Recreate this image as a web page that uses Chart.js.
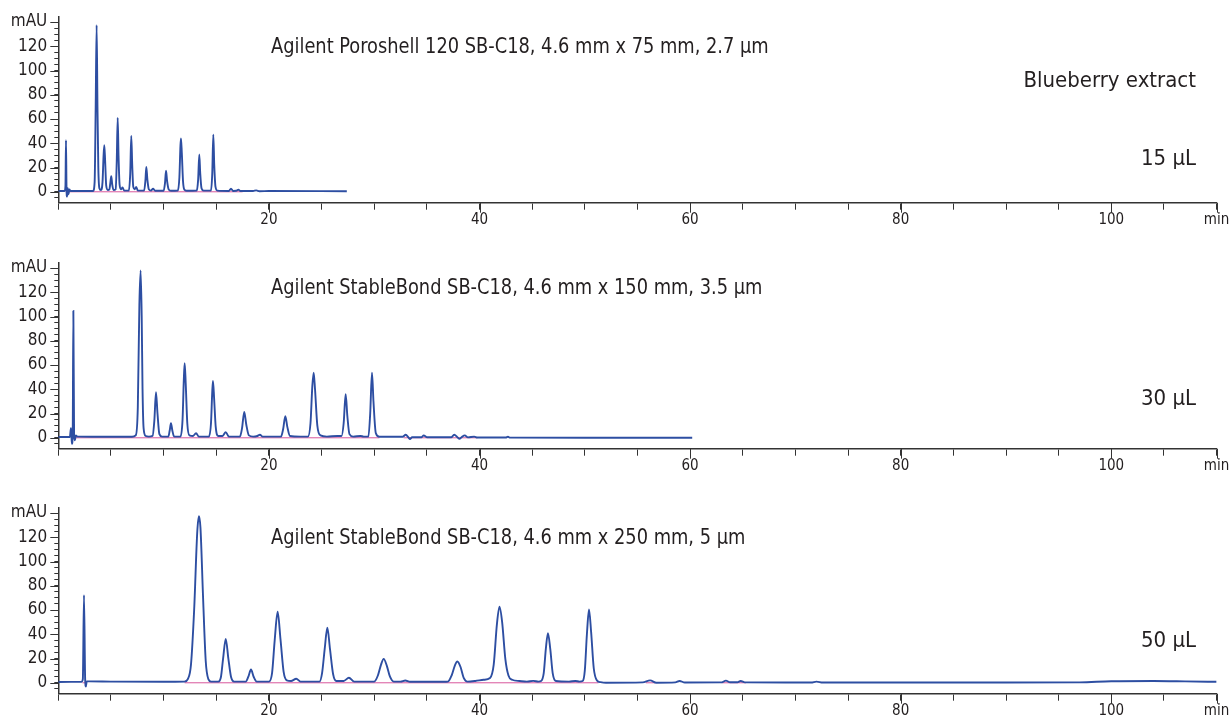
<!DOCTYPE html>
<html lang="en">
<head>
    <meta charset="UTF-8">
    <title>Blueberry extract chromatograms</title>
    <script src="https://cdn.jsdelivr.net/npm/chart.js"></script>
    <style>
        body { margin: 0; background: #fff; width: 1232px; height: 726px; overflow: hidden; position: relative; }
        .panel { position: absolute; left: 0; width: 1232px; height: 245px; }
        .txt { position: absolute; font-family: 'Liberation Sans Narrow', 'DejaVu Sans Condensed', sans-serif; color: #231f20; white-space: nowrap; line-height: 26px; }
        .title { left: 271px; font-size: 22px; transform: scaleX(0.9); transform-origin: left center; }
        .right { right: 36px; font-size: 22px; text-align: right; }
    </style>
</head>
<body>
    <div class="panel" style="top:0px"><canvas id="c1"></canvas></div>
    <div class="panel" style="top:245.6px"><canvas id="c2"></canvas></div>
    <div class="panel" style="top:490.6px"><canvas id="c3"></canvas></div>

    <div class="txt title" style="top:33px">Agilent Poroshell 120 SB-C18, 4.6 mm x 75 mm, 2.7 µm</div>
    <div class="txt right" style="top:67px">Blueberry extract</div>
    <div class="txt right" style="top:145px">15 µL</div>
    <div class="txt title" style="top:274px">Agilent StableBond SB-C18, 4.6 mm x 150 mm, 3.5 µm</div>
    <div class="txt right" style="top:385px">30 µL</div>
    <div class="txt title" style="top:524px">Agilent StableBond SB-C18, 4.6 mm x 250 mm, 5 µm</div>
    <div class="txt right" style="top:627px">50 µL</div>

    <script>
        // retention time (min), absorbance (mAU)
        const trace75 = [
            [0, 0.7], [0.6, 0.7], [0.68, 5], [0.73, 42.5], [0.78, 3], [0.83, -4], [0.9, 3], [0.97, -2], [1.05, 2], [1.15, 0.7],
            [3.3, 0.7], [3.45, 8], [3.55, 70], [3.64, 137.5], [3.72, 70], [3.8, 20], [3.9, 3], [4.05, 1.5],
            [4.2, 8], [4.3, 30], [4.37, 38.4], [4.45, 25], [4.55, 5], [4.7, 1.5],
            [4.85, 2], [4.95, 8], [5.03, 12.9], [5.12, 6], [5.25, 1.5],
            [5.45, 2], [5.55, 25], [5.64, 61], [5.72, 30], [5.82, 6], [5.95, 2], [6.1, 3.5], [6.25, 1],
            [6.7, 1], [6.83, 15], [6.93, 46], [7.02, 22], [7.12, 4], [7.25, 2], [7.4, 4], [7.55, 1],
            [8.15, 1], [8.27, 9], [8.36, 20.5], [8.46, 10], [8.6, 2], [8.8, 1], [9.0, 2.5], [9.2, 0.8],
            [10.0, 0.8], [10.13, 7], [10.23, 17.3], [10.33, 9], [10.48, 2], [10.7, 0.8],
            [11.35, 1], [11.5, 12], [11.6, 38], [11.65, 44], [11.73, 32], [11.85, 8], [12.0, 1.5], [12.2, 0.8],
            [13.15, 1], [13.28, 10], [13.39, 30.7], [13.48, 15], [13.6, 3], [13.8, 1],
            [14.5, 1], [14.62, 15], [14.72, 47], [14.81, 22], [14.93, 4], [15.1, 1],
            [16.2, 0.7], [16.4, 2.5], [16.6, 0.7], [16.9, 0.8], [17.1, 1.8], [17.3, 0.6],
            [18.5, 0.6], [18.8, 1.2], [19.1, 0.5], [20, 0.6], [27.4, 0.5]
        ];
        const trace150 = [
            [0, 0.7], [1.1, 0.7], [1.2, 8], [1.25, 1], [1.3, -5], [1.37, 5], [1.43, 104.7], [1.5, 2], [1.58, -2], [1.66, 2], [1.8, 1],
            [5, 0.8], [7.0, 0.8], [7.35, 2], [7.55, 25], [7.7, 110], [7.82, 138], [7.92, 100], [8.0, 40], [8.1, 8], [8.3, 1.5], [8.6, 1],
            [8.95, 1.5], [9.12, 14], [9.28, 37.5], [9.42, 20], [9.6, 3], [9.85, 1],
            [10.45, 1], [10.58, 6], [10.7, 12], [10.83, 6], [11.0, 1],
            [11.6, 1], [11.8, 15], [11.92, 48], [12.0, 61.6], [12.1, 45], [12.25, 12], [12.45, 2], [12.8, 1.5], [13.08, 3.8], [13.35, 1],
            [14.3, 1], [14.5, 12], [14.62, 38], [14.69, 46.8], [14.8, 32], [14.95, 9], [15.2, 1.5], [15.6, 1.5], [15.9, 4.7], [16.2, 1],
            [17.25, 1], [17.45, 8], [17.66, 21.4], [17.85, 11], [18.1, 2], [18.5, 1], [18.9, 1.5], [19.15, 2.5], [19.4, 1],
            [21.0, 1], [21.15, 1], [21.35, 7], [21.56, 17.8], [21.75, 9], [22.0, 1.5], [23.0, 1],
            [23.7, 1], [23.95, 12], [24.12, 42], [24.25, 53.7], [24.38, 40], [24.6, 10], [24.9, 2], [25.5, 1], [26.5, 1.5],
            [26.9, 1.5], [27.1, 12], [27.29, 36], [27.45, 18], [27.65, 3], [28.0, 1], [28.7, 1.5], [29.0, 1],
            [29.45, 1], [29.62, 20], [29.79, 53.7], [29.93, 30], [30.15, 4], [30.5, 0.8],
            [32.7, 0.8], [33.0, 2.5], [33.25, 0.3], [33.4, -1], [33.6, 0.5], [34.5, 0.5], [34.7, 2], [35.0, 0.5],
            [37.3, 0.4], [37.6, 2.5], [37.9, 0.5], [38.1, -0.8], [38.3, 0.5], [38.6, 2], [38.9, 0.3], [39.5, 1], [39.8, 0.2],
            [42.5, 0.2], [42.7, 0.9], [42.9, 0.1], [50, 0], [60.2, 0]
        ];
        const trace250 = [
            [0, 0.7], [2.2, 0.8], [2.33, 3], [2.44, 72.3], [2.55, 3], [2.62, -3], [2.7, 1.2], [3.0, 1.2], [5, 1], [10, 0.8],
            [12.0, 1], [12.3, 3], [12.6, 15], [12.9, 60], [13.2, 125], [13.36, 137.5], [13.5, 128], [13.75, 70], [14.0, 18], [14.25, 3], [14.5, 1],
            [15.2, 1], [15.45, 5], [15.65, 20], [15.9, 36.2], [16.15, 20], [16.4, 5], [16.7, 1],
            [17.8, 1], [18.05, 5], [18.3, 10.9], [18.55, 5], [18.85, 1],
            [20.0, 1], [20.3, 8], [20.55, 35], [20.83, 58.6], [21.1, 36], [21.4, 9], [21.7, 2], [22.1, 1.5], [22.6, 3.3], [23.0, 1],
            [24.8, 1], [25.05, 8], [25.3, 28], [25.55, 45.4], [25.8, 28], [26.1, 7], [26.4, 1.5], [27.1, 1.5], [27.6, 4.1], [28.1, 1],
            [30.0, 1], [30.35, 6], [30.65, 15], [30.9, 19.7], [31.2, 14], [31.5, 5], [31.85, 1], [32.5, 1], [32.95, 1.9], [33.4, 0.8],
            [36.6, 0.8], [37.0, 1], [37.35, 6], [37.65, 14], [37.9, 17.5], [38.2, 13], [38.5, 4], [38.85, 1], [39.6, 1.5], [40.4, 2.5],
            [41.0, 4], [41.35, 15], [41.65, 48], [41.9, 62.7], [42.15, 50], [42.45, 20], [42.75, 6], [43.1, 2.5], [43.8, 1.5], [44.5, 1], [45.1, 1.6], [45.6, 1],
            [45.85, 1.5], [46.1, 8], [46.3, 28], [46.5, 41], [46.72, 28], [46.95, 8], [47.25, 1.5], [48.5, 1], [49.1, 1.5], [49.5, 1],
            [49.8, 1.5], [50.0, 10], [50.2, 40], [50.4, 60.5], [50.6, 42], [50.85, 12], [51.15, 2], [51.5, 0.5], [52, 0],
            [55.5, 0.3], [56.2, 2], [56.8, 0], [58.6, 0.3], [59.0, 1.5], [59.5, 0.2], [63.0, 0.3], [63.4, 1.8], [63.8, 0.4],
            [64.5, 0.4], [64.8, 1.5], [65.2, 0.3], [71.5, 0.2], [72.0, 1], [72.6, 0.2], [80, 0.2], [90, 0.2],
            [97, 0.3], [100, 1.3], [104, 1.5], [107, 1.2], [110, 0.8]
        ];

        // integration baseline segments (start, end in min)
        const base75 = [[0.7, 17.5]];
        const base150 = [[1.2, 30.5], [32.8, 39.8]];
        const base250 = [[2.3, 2.7], [12.0, 51.3], [55.8, 56.7], [63.0, 65.3]];

        const timeTicks = [0, 5, 10, 15, 20, 25, 30, 35, 40, 45, 50, 55, 60, 65, 70, 75, 80, 85, 90, 95, 100, 105, 110];
        const timeLabels = { 20: '20', 40: '40', 60: '60', 80: '80', 100: '100', 110: 'min' };
        const mauTicks = [-5, 0, 5, 10, 15, 20, 25, 30, 35, 40, 45, 50, 55, 60, 65, 70, 75, 80, 85, 90, 95, 100, 105, 110, 115, 120, 125, 130, 135, 140];
        const mauLabels = { 0: '0', 20: '20', 40: '40', 60: '60', 80: '80', 100: '100', 120: '120', 140: 'mAU' };

        const axisColor = '#333333';
        const fontFamily = "'Liberation Sans Narrow', 'DejaVu Sans Condensed', sans-serif";

        // longer tick marks on the labelled values
        const majorTicks = {
            id: 'majorTicks',
            afterDraw(chart) {
                const ctx = chart.ctx;
                const xs = chart.scales.x, ys = chart.scales.y;
                const area = chart.chartArea;
                ctx.save();
                ctx.strokeStyle = axisColor;
                ctx.lineWidth = 1;
                Object.keys(timeLabels).forEach(v => {
                    const px = Math.round(xs.getPixelForValue(+v)) + 0.5;
                    ctx.beginPath();
                    ctx.moveTo(px, area.bottom);
                    ctx.lineTo(px, area.bottom + 10);
                    ctx.stroke();
                });
                Object.keys(mauLabels).forEach(v => {
                    const py = Math.round(ys.getPixelForValue(+v)) + 0.5;
                    ctx.beginPath();
                    ctx.moveTo(area.left, py);
                    ctx.lineTo(area.left - 8, py);
                    ctx.stroke();
                });
                ctx.restore();
            }
        };

        function baselineData(segs) {
            const out = [];
            segs.forEach(s => {
                out.push({ x: s[0], y: 0 });
                out.push({ x: s[1], y: 0 });
                out.push({ x: s[1] + 0.01, y: null });
            });
            return out;
        }

        function makeChart(id, trace, segs) {
            const ctx = document.getElementById(id).getContext('2d');
            return new Chart(ctx, {
                type: 'line',
                data: {
                    datasets: [{
                        label: 'signal',
                        data: trace.map(p => ({ x: p[0], y: p[1] })),
                        borderColor: '#2d4ea2',
                        borderWidth: 1.9,
                        pointRadius: 0,
                        cubicInterpolationMode: 'monotone',
                        order: 0
                    }, {
                        label: 'baseline',
                        data: baselineData(segs),
                        borderColor: '#d9579c',
                        borderWidth: 1,
                        pointRadius: 0,
                        spanGaps: false,
                        order: 1
                    }]
                },
                options: {
                    responsive: true,
                    maintainAspectRatio: false,
                    animation: false,
                    layout: { padding: { top: 16.5, right: 15.4, left: 0, bottom: 0 } },
                    plugins: { legend: { display: false }, tooltip: { enabled: false } },
                    scales: {
                        x: {
                            type: 'linear',
                            min: 0,
                            max: 110,
                            afterBuildTicks: scale => { scale.ticks = timeTicks.map(v => ({ value: v })); },
                            afterFit: scale => { scale.height = 42.3; },
                            border: { display: true, color: axisColor, width: 1.5 },
                            grid: { drawOnChartArea: false, drawTicks: true, tickLength: 7, tickColor: axisColor },
                            ticks: {
                                autoSkip: false,
                                maxRotation: 0,
                                padding: 1,
                                color: '#231f20',
                                font: { family: fontFamily, size: 15 },
                                callback: v => timeLabels[v] || ''
                            }
                        },
                        y: {
                            min: -9,
                            max: 144,
                            afterBuildTicks: scale => { scale.ticks = mauTicks.map(v => ({ value: v })); },
                            afterFit: scale => { scale.width = 58.3; },
                            border: { display: true, color: axisColor, width: 1.5 },
                            grid: { drawOnChartArea: false, drawTicks: true, tickLength: 4, tickColor: axisColor },
                            ticks: {
                                autoSkip: false,
                                padding: 7,
                                color: '#231f20',
                                font: { family: fontFamily, size: 17 },
                                callback: v => mauLabels[v] || ''
                            }
                        }
                    }
                },
                plugins: [majorTicks]
            });
        }

        makeChart('c1', trace75, base75);
        makeChart('c2', trace150, base150);
        makeChart('c3', trace250, base250);
    </script>
</body>
</html>
